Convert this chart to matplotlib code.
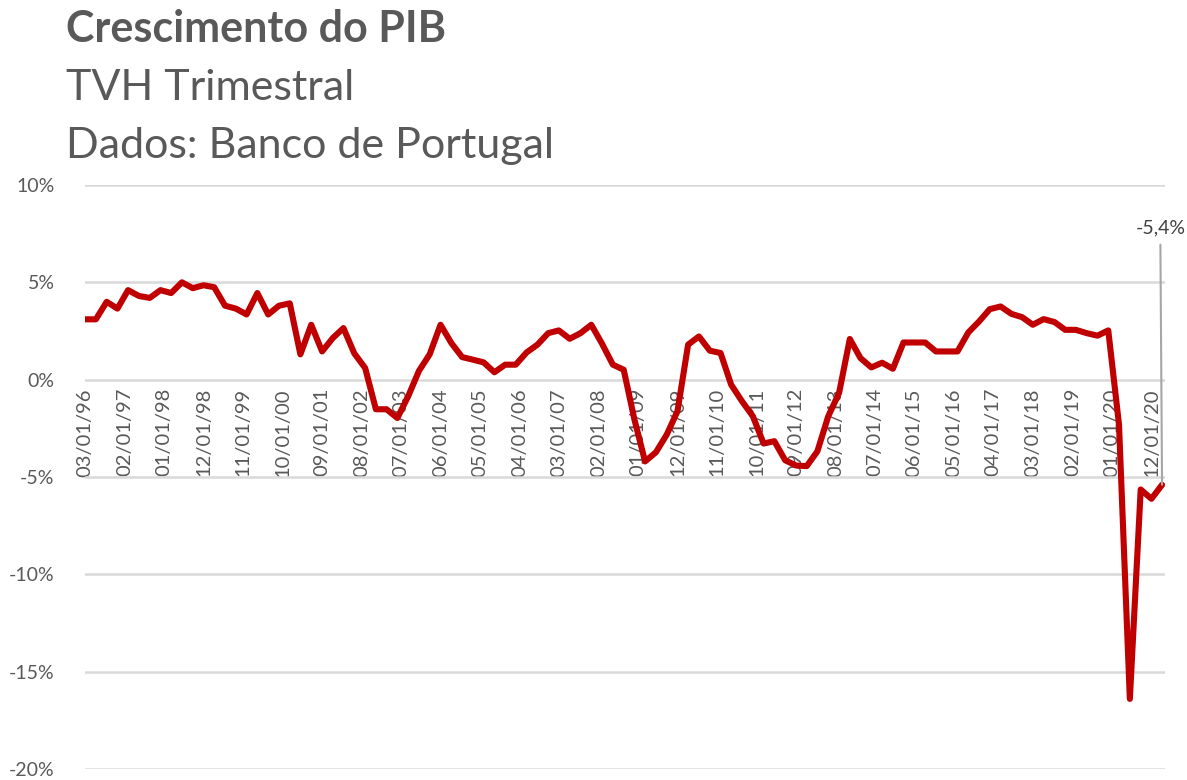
import matplotlib
matplotlib.use("Agg")
import matplotlib.pyplot as plt
import matplotlib.dates as mdates
from matplotlib.ticker import FuncFormatter
import pandas as pd

# ---- data ----
start_quarter = "1996-03-01"
gdp_growth = [
    3.1, 3.1, 4.0, 3.65,      # 1996
    4.6, 4.3, 4.2, 4.6,       # 1997
    4.45, 5.0, 4.7, 4.85,     # 1998
    4.75, 3.8, 3.65, 3.35,    # 1999
    4.45, 3.35, 3.8, 3.92,    # 2000
    1.3, 2.82, 1.45, 2.14,    # 2001
    2.65, 1.35, 0.6, -1.52,   # 2002
    -1.52, -1.97, -0.85, 0.45,  # 2003
    1.3, 2.82, 1.88, 1.16,    # 2004
    1.03, 0.89, 0.38, 0.77,   # 2005
    0.77, 1.4, 1.8, 2.39,     # 2006
    2.53, 2.1, 2.39, 2.82,    # 2007
    1.85, 0.77, 0.51, -2.05,  # 2008
    -4.2, -3.73, -2.82, -1.62,  # 2009
    1.8, 2.22, 1.49, 1.37,    # 2010
    -0.26, -1.11, -1.88, -3.28,  # 2011
    -3.16, -4.14, -4.41, -4.44,  # 2012
    -3.68, -1.88, -0.68, 2.09,   # 2013
    1.11, 0.63, 0.87, 0.56,   # 2014
    1.91, 1.91, 1.91, 1.45,   # 2015
    1.45, 1.45, 2.43, 2.99,   # 2016
    3.62, 3.76, 3.38, 3.21,   # 2017
    2.82, 3.11, 2.96, 2.56,   # 2018
    2.56, 2.39, 2.26, 2.53,   # 2019
    -2.3, -16.4, -5.64, -6.12,  # 2020
    -5.4,                     # 2021
]
tick_labels = ["03/01/96", "02/01/97", "01/01/98", "12/01/98", "11/01/99",
               "10/01/00", "09/01/01", "08/01/02", "07/01/03", "06/01/04",
               "05/01/05", "04/01/06", "03/01/07", "02/01/08", "01/01/09",
               "12/01/09", "11/01/10", "10/01/11", "09/01/12", "08/01/13",
               "07/01/14", "06/01/15", "05/01/16", "04/01/17", "03/01/18",
               "02/01/19", "01/01/20", "12/01/20"]
y_ticks = [10, 5, 0, -5, -10, -15, -20]
title = "Crescimento do PIB"
subtitle1 = "TVH Trimestral"
subtitle2 = "Dados: Banco de Portugal"

dates = pd.date_range(start_quarter, periods=len(gdp_growth), freq="3MS")
tick_dates = pd.to_datetime(tick_labels, format="%m/%d/%y")

# ---- style ----
plt.rcParams["font.family"] = ["Lato", "DejaVu Sans"]
TXT = "#595959"
RED = "#C00000"
GRID = "#D9D9D9"

fig = plt.figure(figsize=(11.87, 7.80), dpi=100)
ax = fig.add_axes([85 / 1187, 1 - 769 / 780, (1165 - 85) / 1187, (769 - 185) / 780])

ax.plot(dates, gdp_growth, color=RED, lw=4.4, solid_joinstyle="round",
        solid_capstyle="round", zorder=3)

ax.set_ylim(min(y_ticks), max(y_ticks))
ax.set_xlim(dates[0], dates[-1] + pd.Timedelta(days=25))
ax.set_yticks(y_ticks)
ax.yaxis.set_major_formatter(FuncFormatter(lambda v, p: f"{int(round(v))}%"))
ax.grid(axis="y", color=GRID, lw=1.8, zorder=0)
ax.set_axisbelow(True)

ax.set_xticks(tick_dates)
ax.xaxis.set_major_formatter(mdates.DateFormatter("%m/%d/%y"))
ax.spines["bottom"].set_position(("data", 0))
for s in ax.spines.values():
    s.set_visible(False)
ax.tick_params(axis="x", length=0, pad=6, labelsize=14.5, labelcolor=TXT,
               labelrotation=90)
ax.tick_params(axis="y", length=0, pad=22, labelsize=14, labelcolor=TXT)
for lab in ax.get_xticklabels():
    lab.set_va("top")
    lab.set_ha("center")
ax.set_facecolor("white")

# last value annotation
last_val = gdp_growth[-1]
label = f"{last_val:.1f}%".replace(".", ",")
ax.annotate(label, xy=(dates[-1], last_val),
            xytext=(dates[-1] - pd.Timedelta(days=15), 7.8),
            ha="center", va="center", fontsize=14, color="#404040",
            arrowprops=dict(arrowstyle="-", color="#A6A6A6", lw=1.5,
                            shrinkA=4, shrinkB=0))

# titles
fig.text(66 / 1187, 1 - 42 / 780, title, fontsize=31, fontweight="bold",
         color=TXT, ha="left", va="baseline")
fig.text(66 / 1187, 1 - 100 / 780, subtitle1, fontsize=31, color=TXT,
         ha="left", va="baseline")
fig.text(66 / 1187, 1 - 158 / 780, subtitle2, fontsize=31, color=TXT,
         ha="left", va="baseline")

fig.savefig("out.png", dpi=100, facecolor="white")
